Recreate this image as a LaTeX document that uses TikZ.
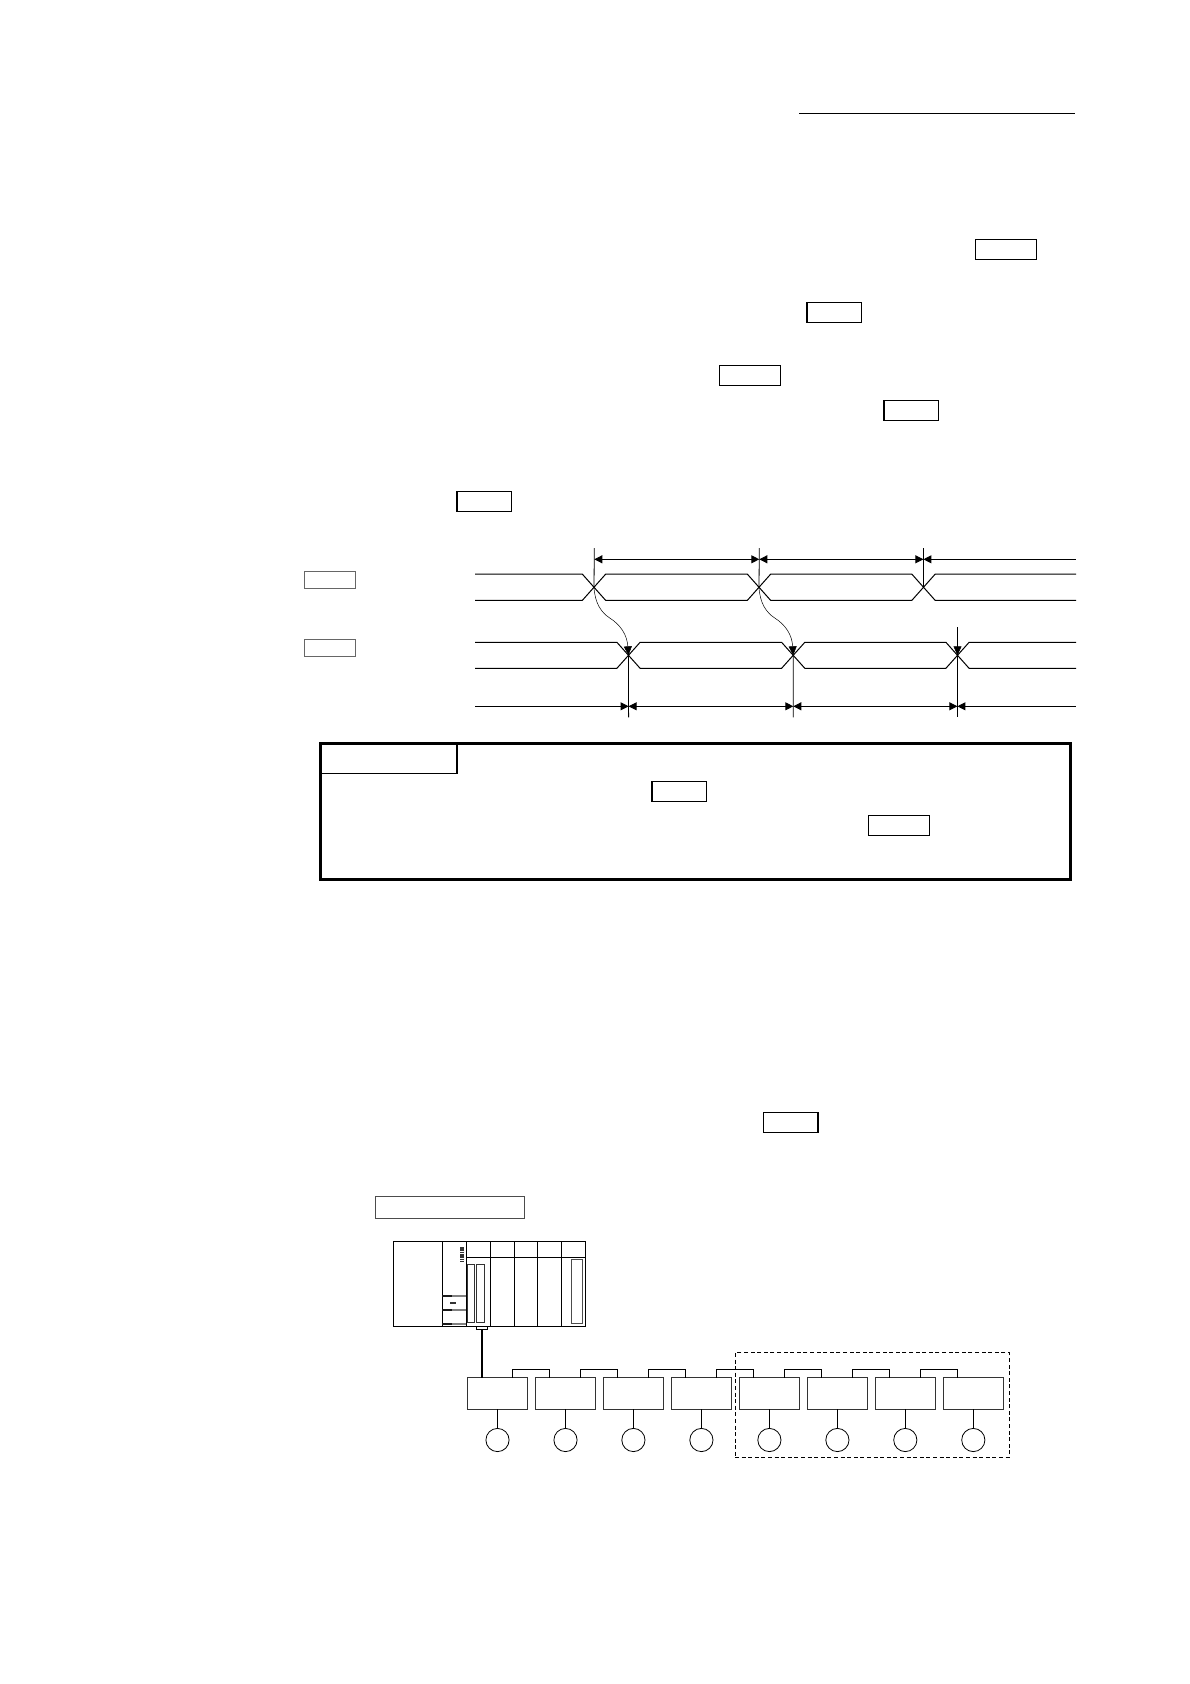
\documentclass[tikz,border=0pt]{standalone}
\usetikzlibrary{arrows.meta}
\tikzset{
    tagbox/.style={draw, line width=1.3pt, inner sep=0pt, outer sep=0pt, minimum height=20pt},
    tagwide/.style={tagbox, minimum width=61pt},
    tagslim/.style={tagbox, minimum width=54.3pt},
    signame/.style={draw=black!60, line width=0.9pt, inner sep=0pt, outer sep=0pt, minimum width=51pt, minimum height=17.4pt},
    wave/.style={line width=1pt},
    tick/.style={line width=0.8pt},
    dimline/.style={line width=0.9pt, >={Stealth[length=8pt,width=8pt,inset=0pt]}},
    flow/.style={line width=0.5pt, ->, >={Stealth[length=9pt,width=8pt,inset=0pt]}},
    module/.style={draw, line width=1pt, inner sep=0pt, outer sep=0pt, minimum height=85pt},
    unitbox/.style={draw=black!80, line width=1.2pt, inner sep=0pt, outer sep=0pt, minimum width=60pt, minimum height=31.4pt},
    portc/.style={draw, circle, line width=0.8pt, inner sep=0pt, outer sep=0pt, minimum size=23.2pt},
    jumper/.style={line width=0.9pt},
}
\begin{document}
\begin{tikzpicture}[x=1pt, y=-1pt]
    \useasboundingbox (0,0) rectangle (1190,1684);

    % Page header rule
    \coordinate (ruleleft) at (799,113.3);
    \coordinate (ruleright) at (1075,113.3);
    \draw[line width=1pt] (ruleleft) -- (ruleright);

    % Reference boxes in the text
    \node[tagwide] (refa) at (1006.2,249.3) {};
    \node[tagslim] (refb) at (834,312.2) {};
    \node[tagwide] (refc) at (750.2,375.3) {};
    \node[tagslim] (refd) at (911,410.3) {};
    \node[tagslim] (refe) at (484,501.3) {};
    \node[tagslim] (reff) at (790.8,1122.3) {};

    % Signal names
    \node[signame] (signala) at (330.4,580) {};
    \node[signame] (signalb) at (330.4,648) {};

    % Crossing points
    \coordinate (crossa) at (594,587.5);
    \coordinate (crossb) at (759,587.5);
    \coordinate (crossc) at (923.5,587.5);
    \coordinate (crossd) at (628.5,655.3);
    \coordinate (crosse) at (793.2,655.3);
    \coordinate (crossf) at (957.5,655.3);

    % Upper signal
    \draw[wave] (475,574.2) -- (582.4,574.2) -- (605.6,600.3) -- (747.4,600.3) -- (770.6,574.2) -- (911.9,574.2) -- (935.1,600.3) -- (1076,600.3);
    \draw[wave] (475,600.3) -- (582.4,600.3) -- (605.6,574.2) -- (747.4,574.2) -- (770.6,600.3) -- (911.9,600.3) -- (935.1,574.2) -- (1076,574.2);

    % Lower signal
    \draw[wave] (475,642.3) -- (616.9,642.3) -- (640.1,668.3) -- (781.6,668.3) -- (804.8,642.3) -- (945.9,642.3) -- (969.1,668.3) -- (1076,668.3);
    \draw[wave] (475,668.3) -- (616.9,668.3) -- (640.1,642.3) -- (781.6,642.3) -- (804.8,668.3) -- (945.9,668.3) -- (969.1,642.3) -- (1076,642.3);

    % Ticks of the upper interval line
    \coordinate (uppera) at (594.3,559.3);
    \coordinate (upperb) at (759.3,559.3);
    \coordinate (upperc) at (923.4,559.3);
    \coordinate (upperend) at (1076,559.3);
    \draw[tick] (594.3,548) -- (crossa);
    \draw[tick] (759.3,548) -- (crossb);
    \draw[tick] (923.4,548) -- (crossc);

    % Upper interval line
    \draw[dimline, <->] (uppera) -- (upperb);
    \draw[dimline, <->] (upperb) -- (upperc);
    \draw[dimline, <-] (upperc) -- (upperend);

    % Ticks of the lower interval line
    \coordinate (lowerstart) at (475,706.3);
    \coordinate (lowera) at (628.6,706.3);
    \coordinate (lowerb) at (793.3,706.3);
    \coordinate (lowerc) at (957.4,706.3);
    \coordinate (lowerend) at (1076,706.3);
    \draw[tick] (crossd) -- (628.6,717.4);
    \draw[tick] (crosse) -- (793.3,717.4);
    \draw[tick] (957.4,627.3) -- (957.4,717.4);

    % Lower interval line
    \draw[dimline, ->] (lowerstart) -- (lowera);
    \draw[dimline, <->] (lowera) -- (lowerb);
    \draw[dimline, <->] (lowerb) -- (lowerc);
    \draw[dimline, <-] (lowerc) -- (lowerend);

    % Cause and effect arrows
    \draw[flow] (crossa) .. controls (595,603) and (601,612) .. (609,617.5) .. controls (621,625) and (627,635) .. (crossd);
    \draw[flow] (crossb) .. controls (760,603) and (766,612) .. (774,617.5) .. controls (786,625) and (792,635) .. (crosse);
    \draw[flow] (957.5,640) -- (crossf);

    % Note frame
    \node[draw, line width=2.5pt, inner sep=0pt, outer sep=0pt, minimum width=750.2pt, minimum height=136pt] (noteframe) at (695.6,811.3) {};
    \node[draw, line width=1.2pt, inner sep=0pt, outer sep=0pt, minimum width=136.5pt, minimum height=30pt, anchor=north west] (notetab) at (noteframe.north west) {};
    \node[tagslim] (notea) at (679.2,791.3) {};
    \node[tagwide] (noteb) at (899,825.7) {};

    % System title
    \node[draw=black!70, line width=1pt, inner sep=0pt, outer sep=0pt, minimum width=148.5pt, minimum height=22.5pt] (systemname) at (450,1207.5) {};

    % Controller rack
    \node[module, minimum width=48.6pt] (powermod) at (418,1284.2) {};
    \node[module, minimum width=24pt] (cpumod) at (454.3,1284.2) {};
    \node[module, minimum width=23.7pt] (slota) at (478.15,1284.2) {};
    \node[module, minimum width=24pt] (slotb) at (502,1284.2) {};
    \node[module, minimum width=23.7pt] (slotc) at (525.85,1284.2) {};
    \node[module, minimum width=24pt] (slotd) at (549.7,1284.2) {};
    \node[module, minimum width=23.6pt] (slote) at (573.5,1284.2) {};
    \draw[line width=1pt] (slota.west |- 0,1257) -- (slote.east |- 0,1257);

    % Rack details
    \draw[black!80, line width=4pt, dash pattern=on 1.6pt off 0.7pt] (462,1247) -- (462,1263);
    \draw[black!80, line width=0.7pt] (467.3,1264.3) rectangle (474.7,1322.7);
    \draw[black!80, line width=0.7pt] (476.3,1264.3) rectangle (484.3,1322.7);
    \draw[black!70, line width=1.2pt] (571.7,1259.3) rectangle (582.3,1323.7);
    \draw[black!50, line width=1.2pt] (442.3,1296) -- (466.3,1296);
    \draw[black!50, line width=1.2pt] (442.3,1310) -- (466.3,1310);
    \draw[black!50, line width=1.2pt] (442.3,1324) -- (466.3,1324);
    \draw[black!90, line width=1.4pt] (442.3,1296) -- (452,1296);
    \draw[black!90, line width=1.4pt] (442.3,1310) -- (452,1310);
    \draw[black!90, line width=1.4pt] (442.3,1324) -- (452,1324);
    \fill[black!80] (450,1302.3) rectangle (456,1304);

    % Cable from the rack
    \node[draw, line width=0.9pt, inner sep=0pt, outer sep=0pt, minimum width=11pt, minimum height=2.8pt] (plugport) at (482.2,1328) {};

    % Connected units
    \node[unitbox] (unita) at (497.5,1393.4) {};
    \node[unitbox] (unitb) at (565.5,1393.4) {};
    \node[unitbox] (unitc) at (633.4,1393.4) {};
    \node[unitbox] (unitd) at (701.4,1393.4) {};
    \node[unitbox] (unite) at (769.4,1393.4) {};
    \node[unitbox] (unitf) at (837.4,1393.4) {};
    \node[unitbox] (unitg) at (905.3,1393.4) {};
    \node[unitbox] (unith) at (973.3,1393.4) {};
    \draw[line width=1.8pt] (plugport.south) -- (plugport.south |- unita.north);

    % Circles below the units
    \node[portc] (porta) at (497.5,1440) {};
    \node[portc] (portb) at (565.5,1440) {};
    \node[portc] (portc) at (633.4,1440) {};
    \node[portc] (portd) at (701.4,1440) {};
    \node[portc] (porte) at (769.4,1440) {};
    \node[portc] (portf) at (837.4,1440) {};
    \node[portc] (portg) at (905.3,1440) {};
    \node[portc] (porth) at (973.3,1440) {};
    \draw[tick] (unita) -- (porta);
    \draw[tick] (unitb) -- (portb);
    \draw[tick] (unitc) -- (portc);
    \draw[tick] (unitd) -- (portd);
    \draw[tick] (unite) -- (porte);
    \draw[tick] (unitf) -- (portf);
    \draw[tick] (unitg) -- (portg);
    \draw[tick] (unith) -- (porth);

    % Links between the units
    \draw[jumper] ([xshift=-14.6pt]unita.north east) -- ++(0,-8.7) -| ([xshift=14.4pt]unitb.north west);
    \draw[jumper] ([xshift=-14.6pt]unitb.north east) -- ++(0,-8.7) -| ([xshift=14.4pt]unitc.north west);
    \draw[jumper] ([xshift=-14.6pt]unitc.north east) -- ++(0,-8.7) -| ([xshift=14.4pt]unitd.north west);
    \draw[jumper] ([xshift=-14.6pt]unitd.north east) -- ++(0,-8.7) -| ([xshift=14.4pt]unite.north west);
    \draw[jumper] ([xshift=-14.6pt]unite.north east) -- ++(0,-8.7) -| ([xshift=14.4pt]unitf.north west);
    \draw[jumper] ([xshift=-14.6pt]unitf.north east) -- ++(0,-8.7) -| ([xshift=14.4pt]unitg.north west);
    \draw[jumper] ([xshift=-14.6pt]unitg.north east) -- ++(0,-8.7) -| ([xshift=14.4pt]unith.north west);

    % Dashed group
    \node[draw, dash pattern=on 4pt off 2.6pt, line width=0.8pt, inner sep=0pt, outer sep=0pt, minimum width=274.3pt, minimum height=104.6pt] (groupbox) at (872.15,1405) {};
\end{tikzpicture}
\end{document}
